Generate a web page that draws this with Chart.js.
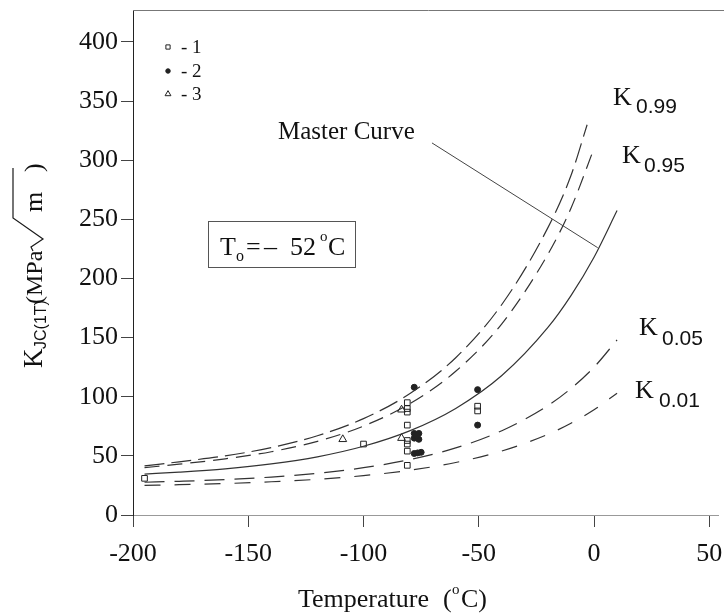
<!DOCTYPE html>
<html><head><meta charset="utf-8">
<script src="https://cdn.jsdelivr.net/npm/chart.js@4.4.1/dist/chart.umd.min.js"></script>
<style>html,body{margin:0;padding:0;background:#fff;overflow:hidden}#wrap{width:724px;height:614px}</style>
</head><body><div id="wrap"><canvas id="c" width="724" height="614"></canvas></div>
<script>
// ---- data ----
const xTicks = [-200, -150, -100, -50, 0, 50];
const yTicks = [0, 50, 100, 150, 200, 250, 300, 350, 400];

const curveT  = [-195, -180, -160, -140, -120, -100, -80, -60, -40, -20, -10, 0, 10];
const master  = [34.6, 36.2, 39.0, 43.2, 49.2, 58.1, 71.1, 90.1, 117.9, 158.6, 185.5, 218.0, 257.4];
const k05     = [27.7, 28.5, 29.9, 32.1, 35.3, 40.0, 46.8, 56.7, 71.3, 92.5, 107.0, 125.0, 148.0];
const k01     = [25.1, 25.6, 26.6, 28.1, 30.2, 33.3, 37.8, 44.4, 54.1, 68.2, 77.6, 89.0, 103.0];
const k99T    = [-195, -180, -160, -140, -120, -100, -80, -60, -40, -20, -10, -3];
const k99     = [41.5, 45.0, 50.0, 57.0, 67.0, 81.5, 102.5, 133.0, 178.0, 243.0, 287.0, 330.0];
const k95T    = [-195, -180, -160, -140, -120, -100, -80, -60, -40, -20, -10, 0];
const k95     = [40.0, 43.0, 47.5, 53.5, 62.3, 75.2, 94.0, 121.5, 161.7, 220.5, 259.4, 310.0];

const s1T = [-195, -100, -81, -81, -81, -81, -81, -81, -81, -81, -50.5, -50.5];
const s1K = [31, 60, 95, 90, 87, 76, 63, 60, 54, 42, 92, 88];
const s2T = [-78, -78, -76, -78, -76, -77, -78, -76.5, -75, -50.5, -50.5];
const s2K = [108, 69, 69, 65, 64, 67, 52, 52.5, 53, 106, 76];
const s3T = [-109, -83.5, -83.5];
const s3K = [64, 89, 65];

const legendLabels = ['- 1', '- 2', '- 3'];
const curveLabels = ['0.99', '0.95', '0.05', '0.01'];
const leaderFrom = [-70.3, 314.6];
const leaderTo = [1.6, 226];

const pts = (xs, ys) => ys.map((v, i) => ({x: xs[i], y: v}));
const INK = '#222';
const SERIF = '"Liberation Serif", "DejaVu Serif", serif';
const SANS = '"Liberation Sans", Arial, sans-serif';

function curve(data, dash) {
  return {type: 'line', data, borderColor: '#333', borderWidth: 1.2, borderDash: dash,
          pointRadius: 0, fill: false, cubicInterpolationMode: 'monotone', showLine: true};
}

const decor = {
  id: 'decor',
  afterDatasetsDraw(chart) {
    const ctx = chart.ctx, xs = chart.scales.x, ys = chart.scales.y, a = chart.chartArea;
    ctx.save();
    // top frame
    ctx.strokeStyle = '#777'; ctx.lineWidth = 1;
    ctx.beginPath(); ctx.moveTo(a.left, a.top + 0.5); ctx.lineTo(724, a.top + 0.5); ctx.stroke();
    // leader line
    ctx.strokeStyle = '#444'; ctx.lineWidth = 1;
    ctx.beginPath();
    ctx.moveTo(xs.getPixelForValue(leaderFrom[0]), ys.getPixelForValue(leaderFrom[1]));
    ctx.lineTo(xs.getPixelForValue(leaderTo[0]), ys.getPixelForValue(leaderTo[1]));
    ctx.stroke();
    ctx.fillStyle = '#111';
    ctx.textBaseline = 'alphabetic'; ctx.textAlign = 'left';
    // Master Curve
    ctx.font = '25px ' + SERIF;
    ctx.fillText('Master Curve', 278, 139);
    // K labels
    const kpos = [[613, 105, 636, 113], [622, 163, 644, 172], [639, 335, 662, 345], [635, 398, 659, 407]];
    kpos.forEach((p, i) => {
      ctx.font = '26px ' + SERIF; ctx.fillText('K', p[0], p[1]);
      ctx.font = '21px ' + SANS; ctx.fillText(curveLabels[i], p[2], p[3]);
    });
    // T0 box
    ctx.strokeStyle = '#555'; ctx.lineWidth = 1;
    ctx.strokeRect(208.5, 221.5, 147, 46);
    ctx.font = '26px ' + SERIF; ctx.fillText('T', 220, 255);
    ctx.font = '16px ' + SERIF; ctx.fillText('o', 236, 261);
    ctx.font = '26px ' + SERIF; ctx.fillText('=', 246, 255);
    ctx.fillText('\u2013', 264, 255);
    ctx.fillText('52', 290, 255);
    ctx.font = '15px ' + SERIF; ctx.fillText('o', 320, 241);
    ctx.font = '26px ' + SERIF; ctx.fillText('C', 328, 255);
    // legend
    const lx = 168, ly = [47, 71, 94];
    ctx.lineWidth = 1;
    chart.data.datasets.slice(5).forEach((ds, i) => {
      ctx.strokeStyle = INK;
      ctx.fillStyle = ds.backgroundColor === 'transparent' ? 'rgba(0,0,0,0)' : INK;
      Chart.helpers.drawPoint(ctx, {pointStyle: ds.pointStyle, radius: ds.pointRadius * 0.75, borderWidth: 1}, lx, ly[i]);
    });
    ctx.fillStyle = '#111';
    ctx.font = '19px ' + SERIF; ctx.textBaseline = 'middle';
    legendLabels.forEach((t, i) => ctx.fillText(t, 181, ly[i] + 1));
    ctx.textBaseline = 'alphabetic';
    // x title
    ctx.font = '26px ' + SERIF;
    ctx.fillText('Temperature', 298, 607);
    ctx.fillText('(', 443, 607);
    ctx.font = '15px ' + SERIF; ctx.fillText('o', 452, 594);
    ctx.font = '26px ' + SERIF; ctx.fillText('C)', 461, 607);
    // y title (rotated)
    ctx.save();
    ctx.translate(42, 368); ctx.rotate(-Math.PI / 2);
    ctx.font = '27px ' + SERIF; ctx.fillText('K', 0, 0);
    ctx.font = '16px ' + SANS; ctx.fillText('JC(1T)', 19, 4);
    ctx.font = '24px ' + SERIF; ctx.fillText('(MPa', 64, 0);
    ctx.strokeStyle = '#1a1a1a'; ctx.lineWidth = 1.2;
    ctx.beginPath();
    ctx.moveTo(117, -9); ctx.lineTo(121, -11); ctx.lineTo(129, 1); ctx.lineTo(150, -29); ctx.lineTo(200, -29);
    ctx.stroke();
    ctx.font = '26px ' + SERIF; ctx.fillText('m', 156, 0);
    ctx.fillText(')', 196, 0);
    ctx.restore();
    ctx.restore();
  }
};

new Chart(document.getElementById('c'), {
  type: 'scatter',
  data: {
    datasets: [
      curve(pts(k99T, k99), [20, 7]),
      curve(pts(k95T, k95), [15, 8]),
      curve(pts(curveT, master), []),
      curve(pts(curveT, k05), [20, 10]),
      curve(pts(curveT, k01), [16, 14]),
      {label: '1', data: pts(s1T, s1K), pointStyle: 'rect', pointRadius: 4, borderColor: INK, borderWidth: 1, backgroundColor: 'transparent'},
      {label: '2', data: pts(s2T, s2K), pointStyle: 'circle', pointRadius: 3, borderColor: INK, borderWidth: 1, backgroundColor: INK},
      {label: '3', data: pts(s3T, s3K), pointStyle: 'triangle', pointRadius: 4.5, borderColor: INK, borderWidth: 1, backgroundColor: 'transparent'}
    ]
  },
  options: {
    responsive: false, animation: false, devicePixelRatio: 1,
    layout: {padding: {top: 10, right: 0, left: 0, bottom: 0}},
    plugins: {legend: {display: false}, tooltip: {enabled: false}},
    scales: {
      x: {
        type: 'linear', min: -200, max: 54,
        afterBuildTicks: s => { s.ticks = xTicks.map(v => ({value: v})); },
        afterFit: s => { s.height = 99; s.paddingLeft = 0; s.paddingRight = 0; },
        grid: {drawOnChartArea: false, drawTicks: true, tickLength: 12, color: '#444'},
        border: {display: true, color: '#999', width: 1},
        ticks: {font: {family: SERIF, size: 26}, color: '#111', padding: 12, maxRotation: 0, autoSkip: false}
      },
      y: {
        type: 'linear', min: 0, max: 427,
        afterBuildTicks: s => { s.ticks = yTicks.map(v => ({value: v})); },
        afterFit: s => { s.width = 133; s.paddingTop = 0; s.paddingBottom = 0; },
        grid: {drawOnChartArea: false, drawTicks: true, tickLength: 12, color: '#444'},
        border: {display: true, color: '#222', width: 1},
        ticks: {font: {family: SERIF, size: 26}, color: '#111', padding: 3, autoSkip: false}
      }
    }
  },
  plugins: [decor]
});
</script></body></html>
